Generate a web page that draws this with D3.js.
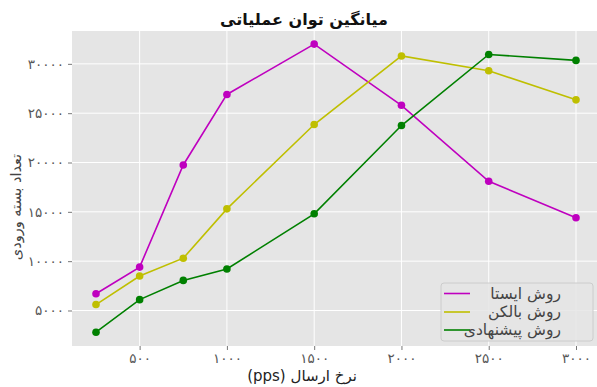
<!DOCTYPE html>
<html>
<head>
<meta charset="utf-8">
<script src="https://cdn.jsdelivr.net/npm/d3@7"></script>
<style>
  html, body { margin: 0; padding: 0; background: #fff; }
  svg { display: block; }
  text { font-family: "DejaVu Sans", sans-serif; }
</style>
</head>
<body>
<svg id="chart" width="597" height="387"></svg>
<script>
// ---- data ----
const sendRates = [250, 500, 750, 1000, 1500, 2000, 2500, 3000];
const staticMethod = [6700, 9400, 19750, 26900, 32000, 25800, 18100, 14400];
const balconMethod = [5600, 8500, 10300, 15300, 23850, 30800, 29300, 26350];
const proposedMethod = [2800, 6100, 8050, 9200, 14800, 23750, 30950, 30350];
const seriesNames = ["روش ایستا", "روش بالکن", "روش پیشنهادی"];
const seriesColors = ["#bf00bf", "#bfbf00", "#008000"];
const xTickValues = [500, 1000, 1500, 2000, 2500, 3000];
const xTickLabels = ["۵۰۰", "۱۰۰۰", "۱۵۰۰", "۲۰۰۰", "۲۵۰۰", "۳۰۰۰"];
const yTickValues = [5000, 10000, 15000, 20000, 25000, 30000];
const yTickLabels = ["۵۰۰۰", "۱۰۰۰۰", "۱۵۰۰۰", "۲۰۰۰۰", "۲۵۰۰۰", "۳۰۰۰۰"];
const titleText = "میانگین توان عملیاتی";
const xLabelText = "نرخ ارسال (pps)";
const yLabelText = "تعداد بسته ورودی";

const series = [staticMethod, balconMethod, proposedMethod];

// ---- layout ----
const svg = d3.select("#chart");
const plot = { left: 72, right: 600, top: 31, bottom: 346 };

const x = d3.scaleLinear().domain([112.5, 3137.5]).range([plot.left, plot.right]);
const y = d3.scaleLinear().domain([1400, 33330]).range([plot.bottom, plot.top]);

svg.append("defs").append("clipPath").attr("id", "clip")
  .append("rect").attr("x", plot.left).attr("y", plot.top)
  .attr("width", plot.right - plot.left).attr("height", plot.bottom - plot.top);

// background
svg.append("rect")
  .attr("x", plot.left).attr("y", plot.top)
  .attr("width", plot.right - plot.left).attr("height", plot.bottom - plot.top)
  .attr("fill", "#e5e5e5");

// grid
const grid = svg.append("g").attr("clip-path", "url(#clip)");
grid.selectAll("line.gx").data(xTickValues).enter().append("line")
  .attr("x1", d => x(d)).attr("x2", d => x(d))
  .attr("y1", plot.top).attr("y2", plot.bottom)
  .attr("stroke", "#fff").attr("stroke-width", 1);
grid.selectAll("line.gy").data(yTickValues).enter().append("line")
  .attr("x1", plot.left).attr("x2", plot.right)
  .attr("y1", d => y(d)).attr("y2", d => y(d))
  .attr("stroke", "#fff").attr("stroke-width", 1);

// axes
const xAxis = d3.axisBottom(x).tickValues(xTickValues)
  .tickFormat((d, i) => xTickLabels[i]).tickSize(4).tickPadding(3);
const yAxis = d3.axisLeft(y).tickValues(yTickValues)
  .tickFormat((d, i) => yTickLabels[i]).tickSize(4).tickPadding(4);

const gx = svg.append("g").attr("transform", `translate(0,${plot.bottom})`).call(xAxis);
const gy = svg.append("g").attr("transform", `translate(${plot.left},0)`).call(yAxis);
[gx, gy].forEach(g => {
  g.select(".domain").remove();
  g.selectAll(".tick line").attr("stroke", "#555").attr("stroke-width", 0.8);
  g.selectAll(".tick text").attr("fill", "#555").style("font-size", "13.5px")
    .style("font-family", "'DejaVu Sans', sans-serif");
});

// lines & markers
const line = d3.line().x((d, i) => x(sendRates[i])).y(d => y(d));
const marks = svg.append("g").attr("clip-path", "url(#clip)");
series.forEach((vals, si) => {
  marks.append("path").datum(vals)
    .attr("d", line).attr("fill", "none")
    .attr("stroke", seriesColors[si]).attr("stroke-width", 1.6);
  marks.selectAll(null).data(vals).enter().append("circle")
    .attr("cx", (d, i) => x(sendRates[i])).attr("cy", d => y(d))
    .attr("r", 3.8).attr("fill", seriesColors[si]);
});

// title and labels
svg.append("text").attr("x", 304).attr("y", 25)
  .attr("text-anchor", "middle").style("font-size", "16px")
  .style("font-weight", "bold").attr("fill", "#111")
  .text(titleText);
svg.append("text").attr("x", 302).attr("y", 381)
  .attr("direction", "rtl").style("direction", "rtl")
  .attr("text-anchor", "middle").style("font-size", "15px").attr("fill", "#222")
  .text(xLabelText);
svg.append("text").attr("transform", "translate(21,207) rotate(-90)")
  .attr("text-anchor", "middle").style("font-size", "14.5px").attr("fill", "#444")
  .text(yLabelText);

// legend
const lg = svg.append("g");
lg.append("rect").attr("x", 441).attr("y", 283).attr("width", 152).attr("height", 58)
  .attr("rx", 3).attr("fill", "#e5e5e5").attr("fill-opacity", 0.85)
  .attr("stroke", "#cccccc").attr("stroke-width", 1);
const rowY = [293.5, 312, 330];
seriesNames.forEach((name, i) => {
  lg.append("line").attr("x1", 444).attr("x2", 470)
    .attr("y1", rowY[i]).attr("y2", rowY[i])
    .attr("stroke", seriesColors[i]).attr("stroke-width", 1.6);
  lg.append("text").attr("x", 561).attr("y", rowY[i] + 5)
    .attr("text-anchor", "end").style("font-size", "15.5px").attr("fill", "#444")
    .text(name);
});
</script>
</body>
</html>
